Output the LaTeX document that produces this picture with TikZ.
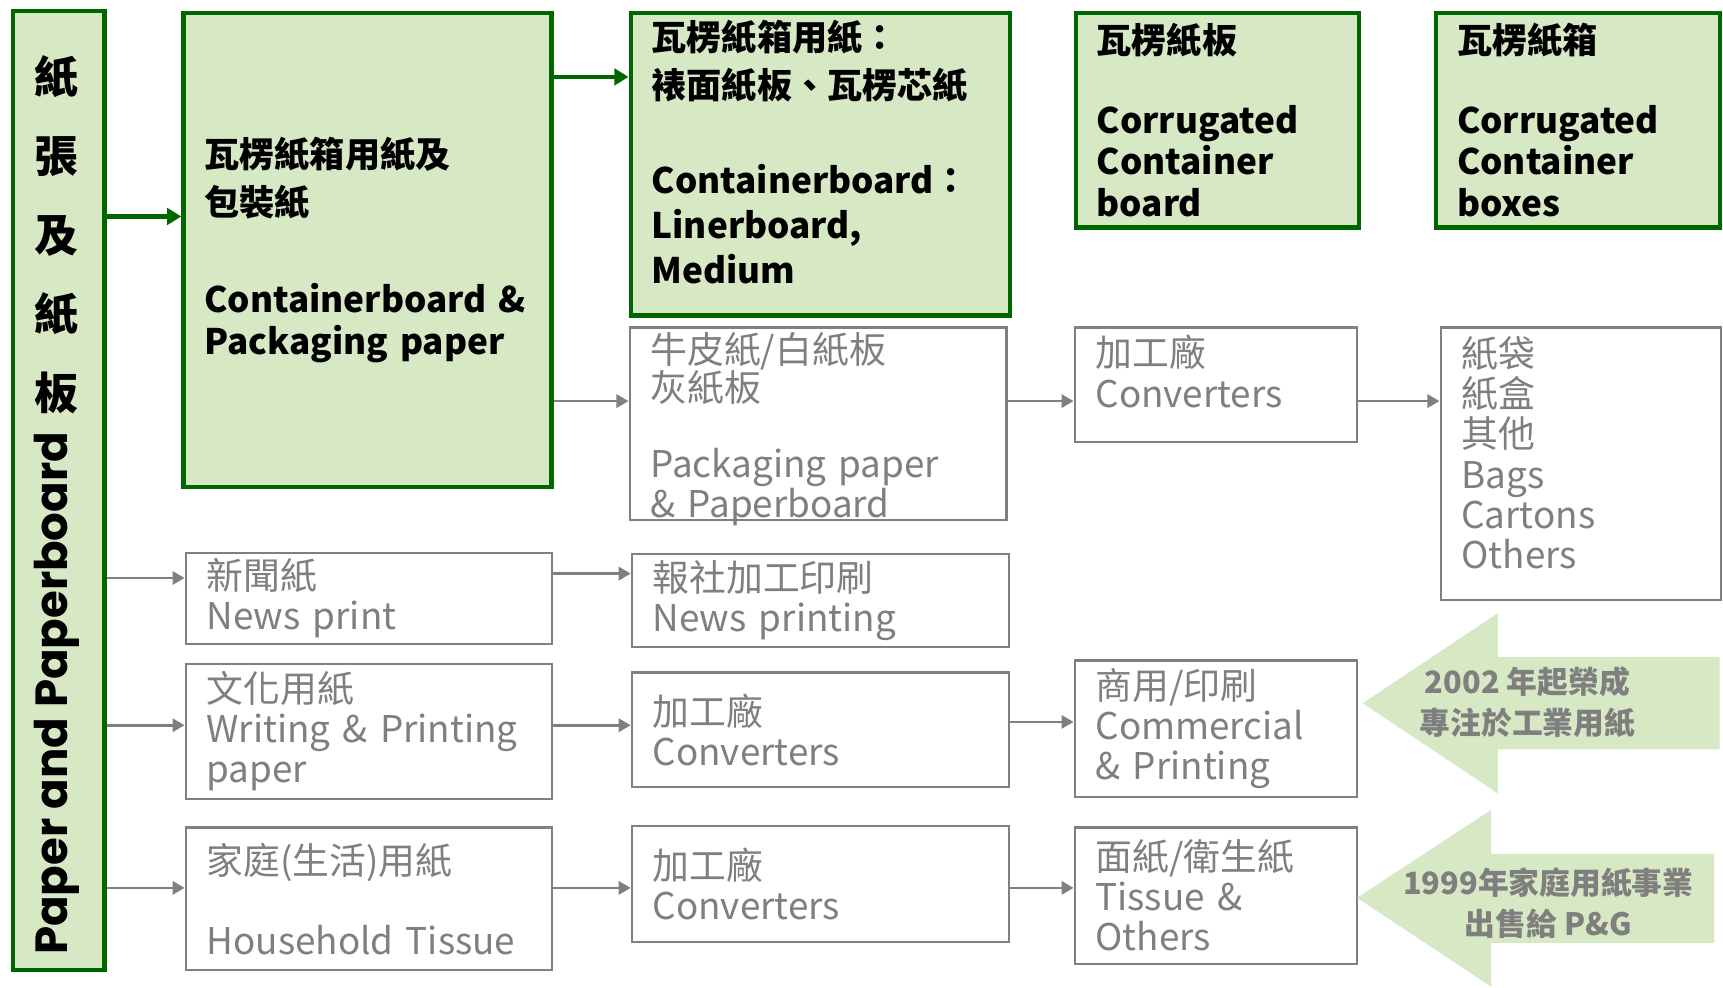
\documentclass[tikz,border=0pt]{standalone}
\usepackage{fontspec}
\setmainfont{Noto Sans CJK TC}
\newfontfamily\headfont{Poppins}
\usetikzlibrary{arrows.meta}

\definecolor{boxgreen}{RGB}{0,102,0}
\definecolor{boxfill}{RGB}{215,232,196}
\definecolor{linegray}{RGB}{128,128,128}
\definecolor{textgray}{RGB}{127,127,127}

% empty last line, lifts the text in its box
\newcommand{\padbot}[1]{\\[#1]\mbox{}}

\tikzset{
  greenbox/.style={draw=boxgreen, line width=4pt, fill=boxfill, anchor=north west,
    inner xsep=19pt, inner ysep=0pt, align=left, text=black,
    font=\fontsize{32}{38}\selectfont\bfseries},
  graybox/.style={draw=linegray, line width=2pt, fill=white, anchor=north west,
    inner xsep=19pt, inner ysep=0pt, align=left, text=textgray,
    font=\fontsize{33.5}{36.5}\selectfont},
  greenarrow/.style={draw=boxgreen, line width=4pt, -{Triangle[length=13pt,width=15pt]}},
  grayarrow/.style={draw=linegray, line width=2.5pt, -{Triangle[length=11pt,width=12pt]}},
  bigarrow/.style={fill=boxfill},
  arrowtext/.style={align=center, text=textgray, font=\fontsize{28}{37}\selectfont\bfseries}
}

\begin{document}
\begin{tikzpicture}[x=1pt,y=-1pt]
\useasboundingbox (0,0) rectangle (1568,899);

% left column
\node[greenbox, minimum width=83pt, minimum height=873pt] (lbox) at (10,8) {};
\node[font=\fontsize{40}{72}\selectfont\bfseries, align=center, anchor=north] (lzh) at (51,47) {紙\\張\\及\\紙\\板};
\node[rotate=90, font=\headfont\fontsize{41}{44}\selectfont\bfseries] (len) at (52,631) {Paper and Paperboard};

% green row
\node[greenbox, minimum width=335pt, minimum height=431pt, text width=297pt] (cbpack) at (165,10)
  {瓦楞紙箱用紙及\\[6pt]包裝紙\\[50pt]Containerboard \&\\Packaging paper};
\node[greenbox, minimum width=345pt, minimum height=275pt, text width=307pt, font=\fontsize{32}{41}\selectfont\bfseries] (liner) at (572,10)
  {瓦楞紙箱用紙：\\[2pt]裱面紙板、瓦楞芯紙\\[46pt]Containerboard：\\Linerboard,\\Medium\padbot{-19pt}};
\node[greenbox, minimum width=258pt, minimum height=195pt, text width=220pt] (ccboard) at (977,10)
  {瓦楞紙板\\[34pt]Corrugated\\Container\\board};
\node[greenbox, minimum width=258pt, minimum height=195pt, text width=220pt] (ccbox) at (1305,10)
  {瓦楞紙箱\\[34pt]Corrugated\\Container\\boxes};

% gray boxes
\node[graybox, minimum width=343pt, minimum height=175pt, text width=305pt, inner ysep=-12pt, font=\fontsize{33.5}{33}\selectfont] (pkgpaper) at (572,297)
  {\mbox{}\\[5pt]牛皮紙/白紙板\\灰紙板\\[36pt]Packaging paper\\\& Paperboard};
\node[graybox, minimum width=257pt, minimum height=104pt, text width=219pt] (conv1) at (977,297)
  {加工廠\\Converters\padbot{-12pt}};
\node[graybox, minimum width=255pt, minimum height=248pt, text width=217pt] (bags) at (1310,297)
  {紙袋\\紙盒\\其他\\Bags\\Cartons\\Others\padbot{-16pt}};

\node[graybox, minimum width=333pt, minimum height=83pt, text width=295pt] (news) at (168,502)
  {新聞紙\\News print};
\node[graybox, minimum width=343pt, minimum height=85pt, text width=305pt] (newsprt) at (574,503)
  {報社加工印刷\\News printing};

\node[graybox, minimum width=333pt, minimum height=123pt, text width=295pt] (writing) at (168,603)
  {文化用紙\\Writing \& Printing\\paper};
\node[graybox, minimum width=343pt, minimum height=104pt, text width=305pt] (conv2) at (574,611)
  {加工廠\\Converters};
\node[graybox, minimum width=257pt, minimum height=124pt, text width=219pt] (commerc) at (977,600)
  {商用/印刷\\Commercial\\\& Printing};

\node[graybox, minimum width=333pt, minimum height=130pt, text width=295pt] (tissue) at (168,752)
  {家庭(生活)用紙\\[36.5pt]Household Tissue};
\node[graybox, minimum width=343pt, minimum height=105pt, text width=305pt] (conv3) at (574,751)
  {加工廠\\Converters};
\node[graybox, minimum width=257pt, minimum height=124pt, text width=219pt] (tisother) at (977,752)
  {面紙/衛生紙\\Tissue \&\\Others};

% connectors
\coordinate (ya) at (0,197);
\coordinate (yb) at (0,70);
\coordinate (yc) at (0,365);
\coordinate (yd) at (0,526);
\coordinate (ye) at (0,522);
\coordinate (yf) at (0,660);
\coordinate (yg) at (0,657);
\coordinate (yh) at (0,808);
\draw[greenarrow] (lbox.east |- ya) -- (cbpack.west |- ya);
\draw[greenarrow] (cbpack.east |- yb) -- (liner.west |- yb);
\draw[grayarrow] (cbpack.east |- yc) -- (pkgpaper.west |- yc);
\draw[grayarrow] (pkgpaper.east |- yc) -- (conv1.west |- yc);
\draw[grayarrow] (conv1.east |- yc) -- (bags.west |- yc);
\draw[grayarrow] (lbox.east |- yd) -- (news.west |- yd);
\draw[grayarrow] (news.east |- ye) -- (newsprt.west |- ye);
\draw[grayarrow] (lbox.east |- yf) -- (writing.west |- yf);
\draw[grayarrow] (writing.east |- yf) -- (conv2.west |- yf);
\draw[grayarrow] (conv2.east |- yg) -- (commerc.west |- yg);
\draw[grayarrow] (lbox.east |- yh) -- (tissue.west |- yh);
\draw[grayarrow] (tissue.east |- yh) -- (conv3.west |- yh);
\draw[grayarrow] (conv3.east |- yh) -- (tisother.west |- yh);

% big arrows
\fill[bigarrow] (1240,640) -- (1363,558) -- (1363,598) -- (1565,598) -- (1565,682)
  -- (1363,682) -- (1363,722) -- cycle;
\node[arrowtext] (note1) at (1390,639) {2002 年起榮成\\專注於工業用紙};
\fill[bigarrow] (1235,817) -- (1357,737) -- (1357,777) -- (1560,777) -- (1560,858)
  -- (1357,858) -- (1357,898) -- cycle;
\node[arrowtext] (note2) at (1409,822) {1999年家庭用紙事業\\出售給 P\&G};
\end{tikzpicture}
\end{document}
